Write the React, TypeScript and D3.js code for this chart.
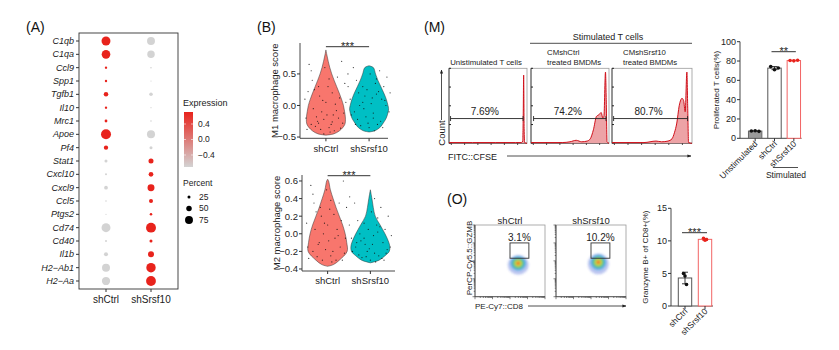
import React from 'react';
import * as d3 from 'd3';

const FONT = "'Liberation Sans', Arial, Helvetica, sans-serif";
const RED = '#E8231C';
const MINUS = (s: string) => s.replace('-', '\u2212');

// ---------- (A) dot plot data
const genes = ['C1qb', 'C1qa', 'Ccl9', 'Spp1', 'Tgfb1', 'Il10', 'Mrc1', 'Apoe', 'Pf4', 'Stat1',
  'Cxcl10', 'Cxcl9', 'Ccl5', 'Ptgs2', 'Cd74', 'Cd40', 'Il1b', 'H2\u2212Ab1', 'H2\u2212Aa'];
const groups = ['shCtrl', 'shSrsf10'];
const exprCtrl = [0.71, 0.71, 0.71, 0.71, 0.71, 0.71, 0.71, 0.71, 0.71, -0.71,
  -0.71, -0.71, -0.71, -0.71, -0.71, -0.71, -0.71, -0.71, -0.71];
const exprSrsf = exprCtrl.map(v => -v);
const pctCtrl = [85, 82, 18, 18, 40, 18, 22, 96, 38, 25, 14, 32, 10, 6, 85, 14, 35, 75, 78];
const pctSrsf = [75, 70, 10, 6, 30, 6, 10, 76, 25, 45, 42, 65, 35, 20, 95, 25, 55, 90, 94];
const exprTicks = [-0.4, 0, 0.4];
const pctTicks = [25, 50, 75];

// ---------- (B) violins: score levels and relative widths
const m1CtrlV = [-0.47, -0.45, -0.4, -0.3, -0.2, -0.1, 0, 0.1, 0.2, 0.3, 0.4, 0.5, 0.6, 0.7, 0.8, 0.88];
const m1CtrlW = [0, 0.4, 0.7, 0.97, 1.0, 0.96, 0.9, 0.8, 0.68, 0.55, 0.42, 0.3, 0.2, 0.12, 0.05, 0];
const m1SrsfV = [-0.42, -0.4, -0.35, -0.3, -0.2, -0.1, -0.05, 0, 0.1, 0.2, 0.3, 0.4, 0.5, 0.6, 0.63];
const m1SrsfW = [0, 0.3, 0.55, 0.68, 0.88, 0.98, 1.0, 0.97, 0.88, 0.75, 0.6, 0.45, 0.33, 0.22, 0];
const m2CtrlV = [-0.37, -0.35, -0.3, -0.2, -0.1, 0, 0.1, 0.2, 0.3, 0.4, 0.5, 0.6, 0.62];
const m2CtrlW = [0, 0.3, 0.6, 1.0, 0.98, 0.9, 0.77, 0.6, 0.43, 0.28, 0.14, 0.05, 0];
const m2SrsfV = [-0.33, -0.3, -0.25, -0.2, -0.15, -0.1, 0, 0.1, 0.2, 0.3, 0.4, 0.5];
const m2SrsfW = [0, 0.45, 0.75, 0.97, 1.0, 0.95, 0.75, 0.5, 0.25, 0.15, 0.08, 0];

// jittered cells: [jitter (-1..1), score]
const m1CtrlPts = [[-0.7, -0.3], [-0.4, -0.25], [0.15, -0.35], [0.6, -0.2], [-0.2, -0.1], [0.35, -0.15], [-0.6, -0.05], [0.8, -0.28], [0, 0.05], [-0.3, 0.15], [0.45, 0.02], [-0.9, -0.38], [0.2, -0.42], [-0.5, -0.33], [0.7, -0.36], [-0.1, -0.22], [0.3, 0.2], [-0.35, 0.3], [0.15, 0.42], [-0.7, 0.55], [0.9, 0.35], [-1, 0.1], [1.05, 0.5], [-0.05, 0.6], [0.5, -0.08], [-0.8, 0.65], [0.25, -0.3], [-0.45, -0.18], [0.65, 0.12], [0.05, -0.15], [-0.15, 0.08], [0.4, -0.4], [-0.55, 0.25], [0.85, -0.12], [-0.95, -0.2], [0.55, 0.45], [-0.25, -0.38], [0.1, 0.3], [0.75, 0.7], [-0.65, 0.4], [-0.1, -0.45], [0.3, -0.26], [-0.35, -0.28], [0.95, 0.05], [-0.85, 0.22]];
const m1SrsfPts = [[-0.7, -0.1], [-0.3, 0.05], [0.2, -0.2], [0.6, 0.1], [-0.1, 0.25], [0.4, -0.3], [-0.5, 0.2], [0.8, 0], [0, -0.35], [-0.85, -0.15], [0.3, 0.35], [-0.25, -0.05], [0.55, -0.25], [-0.6, 0.4], [0.15, 0.12], [0.7, 0.3], [-0.4, -0.32], [0.05, 0.5], [-0.9, 0.1], [0.95, -0.1], [0.35, 0.18], [-0.15, -0.18], [0.5, 0.55], [-0.75, 0.6], [0.25, -0.4], [-0.45, 0], [0.65, -0.35], [0.1, 0.03], [-0.3, 0.3], [0.85, 0.45], [-0.55, -0.22], [0.45, 0.22], [-0.05, -0.28], [-1, 0.3], [1, 0.2], [0.2, -0.12], [-0.2, 0.15], [0.75, 0.08], [-0.65, -0.3], [0.35, 0.42]];
const m2CtrlPts = [[-0.7, -0.2], [-0.4, -0.1], [0.15, -0.25], [0.6, -0.15], [-0.2, 0], [0.35, -0.05], [-0.6, 0.05], [0.8, -0.22], [0, 0.1], [-0.3, 0.2], [0.45, 0.05], [-0.9, -0.28], [0.2, -0.32], [-0.5, -0.26], [0.7, -0.3], [-0.1, -0.18], [0.3, 0.22], [-0.35, 0.3], [0.15, 0.38], [-0.7, 0.45], [0.9, 0.3], [-1, 0.12], [1.05, 0.42], [-0.05, 0.5], [0.5, -0.02], [-0.8, 0.55], [0.25, -0.2], [-0.45, -0.12], [0.65, 0.15], [0.05, -0.08], [-0.15, 0.12], [0.4, -0.3], [-0.55, 0.25], [0.85, -0.05], [-0.95, -0.15], [0.55, 0.35], [-0.25, -0.3], [0.1, 0.28], [0.75, 0.6], [-0.65, 0.35]];
const m2SrsfPts = [[-0.7, -0.15], [-0.3, -0.05], [0.2, -0.22], [0.6, -0.1], [-0.1, 0.05], [0.4, -0.25], [-0.5, 0], [0.8, -0.18], [0, -0.3], [-0.85, -0.2], [0.3, 0.1], [-0.25, -0.12], [0.55, -0.28], [-0.6, 0.15], [0.15, -0.02], [0.7, 0.05], [-0.4, -0.27], [0.05, 0.25], [-0.9, -0.05], [0.95, -0.15], [0.35, 0.02], [-0.15, -0.2], [0.5, 0.3], [-0.75, 0.35], [0.25, -0.32], [-0.45, -0.08], [0.65, -0.3], [0.1, -0.12], [-0.3, 0.12], [0.85, 0.2], [-0.55, -0.24], [0.45, 0.08], [-0.05, -0.17], [-1, 0.1], [1, -0.02], [0.2, 0.4], [-0.2, -0.26], [0.75, -0.22], [-0.65, -0.1], [0.35, 0.18]];
const m1Ticks = [-0.5, 0, 0.5];
const m2Ticks = [-0.4, -0.2, 0, 0.2, 0.4, 0.6];

// ---------- (M) CFSE histograms: [CFSE, count %]
const histUnstim = [[0, 1], [30, 1], [60, 1], [85, 1], [93, 1], [94.5, 3], [95.2, 40], [95.7, 91], [96.3, 20], [97, 1], [100, 0]];
const histCtrl = [[0, 1], [40, 1], [50, 2], [58, 4], [65, 2], [72, 3], [76, 6], [80, 18], [84, 36], [87, 38], [90, 41], [92, 34], [93.5, 36], [95.5, 95], [96.5, 55], [97.5, 2], [100, 0]];
const histSrsf = [[0, 1], [40, 1], [55, 3], [62, 2], [70, 3], [75, 6], [78, 14], [81, 27], [84, 50], [86, 58], [87.5, 60], [89.5, 57], [91.5, 42], [93.6, 95], [94.6, 50], [95.7, 1], [100, 0]];
const cfseGates = [[2, 95], [3.3, 96.2], [2, 94.5]];
const cfsePct = ['7.69%', '74.2%', '80.7%'];

const prolCats = ['Unstimulated', 'shCtrl', 'shSrsf10'];
const prolUnstim = [7.5, 7.8, 7.2];
const prolCtrl = [74.2, 71.0, 72.8];
const prolSrsf = [80.5, 80.2, 80.8];
const prolTicks = [0, 20, 40, 60, 80, 100];

// ---------- (O) GZMB flow + bars
const gzGate = [[1000, 12000], [1400, 10000]];
const gzPct = ['3.1%', '10.2%'];
// density blob: centre (log10 CD8, log10 GZMB), radii in decades
const blobCtrl = [3.47, 2.86, 0.6, 0.55];
const blobSrsf = [3.42, 2.92, 0.6, 0.58];
const blobLevels = [1.0, 0.75, 0.55, 0.36, 0.22, 0.11];
const blobColors = ['#3a58d4', '#3c9fe0', '#4cc47c', '#c9da3a', '#f2a23a', '#e3402a'];
const gzCats = ['shCtrl', 'shSrsf10'];
const gzCtrl = [5.0, 4.6, 3.3];
const gzSrsf = [10.4, 10.1, 10.2];
const gzTicks = [0, 5, 10, 15];

const mean = (a: number[]) => d3.mean(a) as number;
const sd = (a: number[]) => d3.deviation(a) as number;

function Stars({x1, x2, y, label}: {x1: number; x2: number; y: number; label: string}) {
  return <g>
    <line x1={x1} x2={x2} y1={y} y2={y} stroke="#333" strokeWidth={1}/>
    <text x={(x1 + x2) / 2} y={y + 3} textAnchor="middle" fontSize={11} fill="#222">{label}</text>
  </g>;
}

function PanelA() {
  const x = d3.scalePoint<string>().domain(groups).range([79, 178]).padding(0.6);
  const y = d3.scalePoint<string>().domain(genes).range([33, 289]).padding(0.6);
  const r = d3.scaleLinear().domain([0, 100]).range([0.3, 5.2]);
  const col = d3.scaleLinear<string>().domain([-0.71, 0.71]).range(['#D3D3D3', RED]);
  const legY = d3.scaleLinear().domain([-0.71, 0.71]).range([167, 112]);
  const sets = [{g: 'shCtrl', e: exprCtrl, p: pctCtrl}, {g: 'shSrsf10', e: exprSrsf, p: pctSrsf}];
  return <g>
    <text x={26} y={32} fontSize={14} fill="#111">(A)</text>
    <rect x={79} y={33} width={99} height={256} fill="none" stroke="#333" strokeWidth={0.9}/>
    {genes.map(g => <g key={g}>
      <line x1={76} x2={79} y1={y(g)} y2={y(g)} stroke="#333"/>
      <text x={74} y={y(g)} dy="0.35em" textAnchor="end" fontSize={9} fontStyle="italic" fill="#222">{g}</text>
    </g>)}
    {groups.map(g => <g key={g}>
      <line x1={x(g)} x2={x(g)} y1={289} y2={292} stroke="#333"/>
      <text x={x(g)} y={303} textAnchor="middle" fontSize={10} fill="#222">{g}</text>
    </g>)}
    {sets.map(s => genes.map((g, i) =>
      <circle key={s.g + g} cx={x(s.g)} cy={y(g)} r={r(s.p[i])} fill={col(s.e[i])}/>))}
    <defs>
      <linearGradient id="exprGrad" x1="0" y1="1" x2="0" y2="0">
        <stop offset="0%" stopColor="#D3D3D3"/>
        <stop offset="100%" stopColor={RED}/>
      </linearGradient>
    </defs>
    <text x={183} y={106} fontSize={9} fill="#222">Expression</text>
    <rect x={184} y={112} width={9} height={55} fill="url(#exprGrad)"/>
    {exprTicks.map(t => <g key={t}>
      <line x1={184} x2={186} y1={legY(t)} y2={legY(t)} stroke="#fff" strokeWidth={0.6}/>
      <line x1={191} x2={193} y1={legY(t)} y2={legY(t)} stroke="#fff" strokeWidth={0.6}/>
      <text x={198} y={legY(t)} dy="0.35em" fontSize={8.5} fill="#222">{MINUS(d3.format('.1f')(t))}</text>
    </g>)}
    <text x={183} y={186} fontSize={8.5} fill="#222">Percent</text>
    {pctTicks.map((t, i) => <g key={t}>
      <circle cx={189} cy={197 + i * 11.5} r={r(t)} fill="#000"/>
      <text x={199} y={197 + i * 11.5} dy="0.35em" fontSize={8.5} fill="#222">{t}</text>
    </g>)}
  </g>;
}

function Violin({cx, hw, y, vs, ws, pts, fill}: any) {
  const area = d3.area<number>()
    .y((_, i) => y(vs[i]))
    .x0((_, i) => cx - ws[i] * hw)
    .x1((_, i) => cx + ws[i] * hw)
    .curve(d3.curveCatmullRom);
  return <g>
    <path d={area(vs) as string} fill={fill} stroke="#333" strokeWidth={0.5}/>
    {pts.map((p: number[], i: number) =>
      <circle key={i} cx={cx + p[0] * 21} cy={y(p[1])} r={0.6} fill="#111" opacity={0.85}/>)}
  </g>;
}

function ViolinPanel({top, bottom, dom, xr, axisEnd, ticks, title, sets, sigY, labelY}: any) {
  const y = d3.scaleLinear().domain(dom).range([bottom, top]);
  const x = d3.scalePoint<string>().domain(groups).range(xr).padding(0.6);
  const ax = xr[0];
  return <g>
    <line x1={ax} x2={ax} y1={top} y2={bottom} stroke="#333" strokeWidth={0.9}/>
    <line x1={ax} x2={axisEnd} y1={bottom} y2={bottom} stroke="#333" strokeWidth={0.9}/>
    {ticks.map((t: number) => <g key={t}>
      <line x1={ax - 3} x2={ax} y1={y(t)} y2={y(t)} stroke="#333"/>
      <text x={ax - 4} y={y(t)} dy="0.35em" textAnchor="end" fontSize={9.5} fill="#222">{MINUS(d3.format('.1f')(t))}</text>
    </g>)}
    {sets.map((s: any) => <Violin key={s.g} cx={x(s.g)} hw={19.5} y={y} vs={s.v} ws={s.w} pts={s.pts} fill={s.fill}/>)}
    {groups.map(g => <g key={g}>
      <line x1={x(g)} x2={x(g)} y1={bottom} y2={bottom + 3} stroke="#333"/>
      <text x={x(g)} y={labelY} textAnchor="middle" fontSize={9.5} fill="#222">{g}</text>
    </g>)}
    <text transform={`translate(${ax - 22},${(top + bottom) / 2}) rotate(-90)`} textAnchor="middle" fontSize={9.5} fill="#222">{title}</text>
    <Stars x1={x('shCtrl') as number} x2={x('shSrsf10') as number} y={sigY} label="***"/>
  </g>;
}

function PanelB() {
  return <g>
    <text x={257} y={32} fontSize={14} fill="#111">(B)</text>
    <ViolinPanel top={43} bottom={138.3} dom={[-0.52, 0.99]} xr={[300, 395]} axisEnd={388} ticks={m1Ticks}
      title="M1 macrophage score" sigY={46.7} labelY={152}
      sets={[{g: 'shCtrl', v: m1CtrlV, w: m1CtrlW, pts: m1CtrlPts, fill: '#F8766D'},
        {g: 'shSrsf10', v: m1SrsfV, w: m1SrsfW, pts: m1SrsfPts, fill: '#00BFC4'}]}/>
    <ViolinPanel top={175} bottom={271} dom={[-0.423, 0.668]} xr={[302, 396]} axisEnd={395} ticks={m2Ticks}
      title="M2 macrophage score" sigY={175.7} labelY={284}
      sets={[{g: 'shCtrl', v: m2CtrlV, w: m2CtrlW, pts: m2CtrlPts, fill: '#F8766D'},
        {g: 'shSrsf10', v: m2SrsfV, w: m2SrsfW, pts: m2SrsfPts, fill: '#00BFC4'}]}/>
  </g>;
}

function PanelM() {
  const boxes = [[449, 527], [531, 609], [612, 692]];
  const top = 68.3, bottom = 143.3;
  const hists = [histUnstim, histCtrl, histSrsf];
  const y = d3.scaleLinear().domain([0, 100]).range([bottom, top]);
  return <g>
    <defs>
      <marker id="arr" viewBox="0 0 10 10" refX={9} refY={5} markerWidth={5} markerHeight={5} orient="auto">
        <path d="M0,1 L10,5 L0,9 z" fill="#222"/>
      </marker>
    </defs>
    <text x={424} y={32} fontSize={14} fill="#111">(M)</text>
    <text x={608} y={40} textAnchor="middle" fontSize={9} fill="#222">Stimulated T cells</text>
    <line x1={530} x2={692} y1={43.3} y2={43.3} stroke="#222" strokeWidth={0.8}/>
    <text x={486} y={65} textAnchor="middle" fontSize={7.8} fill="#222">Unistimulated T cells</text>
    <text x={547} y={55} fontSize={7.8} fill="#222">CMshCtrl</text>
    <text x={547} y={65} fontSize={7.8} fill="#222">treated BMDMs</text>
    <text x={623} y={55} fontSize={7.8} fill="#222">CMshSrsf10</text>
    <text x={623} y={65} fontSize={7.8} fill="#222">treated BMDMs</text>
    {boxes.map((b, i) => {
      const x = d3.scaleLinear().domain([0, 100]).range(b);
      const area = d3.area<number[]>().x(d => x(d[0])).y0(bottom).y1(d => y(d[1])).curve(d3.curveMonotoneX);
      const line = d3.line<number[]>().x(d => x(d[0])).y(d => y(d[1])).curve(d3.curveMonotoneX);
      const g = cfseGates[i];
      return <g key={i}>
        <rect x={b[0]} y={top} width={b[1] - b[0]} height={bottom - top} fill="#fff" stroke="#9a9a9a" strokeWidth={0.8}/>
        <line x1={b[0]} x2={b[0]} y1={top} y2={bottom} stroke="#333" strokeWidth={0.8}/>
        <line x1={b[0]} x2={b[1]} y1={bottom} y2={bottom} stroke="#333" strokeWidth={0.8}/>
        {[0, 25, 50, 75, 100].map(t => <line key={t} x1={b[0]} x2={b[0] + 2} y1={y(t)} y2={y(t)} stroke="#222"/>)}
        {[3, 20, 37, 54, 71, 88].map(t => <line key={t} x1={x(t)} x2={x(t)} y1={bottom - 1} y2={bottom + 1.5} stroke="#222"/>)}
        <path d={area(hists[i]) as string} fill="#EDA3A6"/>
        <path d={line(hists[i]) as string} fill="none" stroke="#D0111B" strokeWidth={1}/>
        <line x1={x(g[0])} x2={x(g[1])} y1={y(33)} y2={y(33)} stroke="#222" strokeWidth={0.9}/>
        <line x1={x(g[0])} x2={x(g[0])} y1={y(33) - 2.5} y2={y(33) + 2.5} stroke="#222" strokeWidth={0.9}/>
        <line x1={x(g[1])} x2={x(g[1])} y1={y(33) - 2.5} y2={y(33) + 2.5} stroke="#222" strokeWidth={0.9}/>
        <text x={(x(g[0]) + x(g[1])) / 2 - 2} y={115} textAnchor="middle" fontSize={10} fill="#222">{cfsePct[i]}</text>
      </g>;
    })}
    <text transform="translate(445,133) rotate(-90)" textAnchor="middle" fontSize={9.5} fill="#222">Count</text>
    <line x1={441.5} x2={441.5} y1={120} y2={70} stroke="#222" strokeWidth={0.8} markerEnd="url(#arr)"/>
    <text x={448} y={160} fontSize={9} fill="#222">FITC::CFSE</text>
    <line x1={507} x2={691} y1={156} y2={156} stroke="#222" strokeWidth={0.8} markerEnd="url(#arr)"/>
  </g>;
}

function BarChart({cats, data, ticks, dom, top, bottom, axX, xr, strokes, fills, dotCols, title, titleX, sig, dotSpread}: any) {
  const y = d3.scaleLinear().domain(dom).range([bottom, top]);
  const x = d3.scalePoint<string>().domain(cats).range(xr).padding(0.5);
  const bw = 13.4;
  const axEnd = (xr[1] as number) - 2;
  return <g>
    <line x1={axX} x2={axX} y1={top} y2={bottom} stroke="#333" strokeWidth={0.9}/>
    <line x1={axX} x2={axEnd} y1={bottom} y2={bottom} stroke="#333" strokeWidth={0.9}/>
    {ticks.map((t: number) => <g key={t}>
      <line x1={axX - 3} x2={axX} y1={y(t)} y2={y(t)} stroke="#333"/>
      <text x={axX - 4} y={y(t)} dy="0.35em" textAnchor="end" fontSize={9} fill="#222">{t}</text>
    </g>)}
    {cats.map((c: string, i: number) => {
      const m = mean(data[i]);
      const s = sd(data[i]);
      const cx = x(c) as number;
      const ec = strokes[i] === '#555' ? '#222' : strokes[i];
      return <g key={c}>
        <rect x={cx - bw / 2} y={y(m)} width={bw} height={bottom - y(m)} fill={fills[i]} stroke={strokes[i]} strokeWidth={1}/>
        <line x1={cx} x2={cx} y1={y(m + s)} y2={y(m - s)} stroke={ec} strokeWidth={0.9}/>
        <line x1={cx - 3} x2={cx + 3} y1={y(m + s)} y2={y(m + s)} stroke={ec} strokeWidth={0.9}/>
        <line x1={cx - 3} x2={cx + 3} y1={y(m - s)} y2={y(m - s)} stroke={ec} strokeWidth={0.9}/>
        {data[i].map((v: number, j: number) =>
          <circle key={j} cx={cx + (j - 1) * dotSpread} cy={y(v)} r={1.8} fill={dotCols[i]}/>)}
        <line x1={cx} x2={cx} y1={bottom} y2={bottom + 3} stroke="#333"/>
        <text transform={`translate(${cx + 3},${bottom + 6}) rotate(-45)`} textAnchor="end" fontSize={8.5} fill="#222">{c}</text>
      </g>;
    })}
    <text transform={`translate(${titleX},${(top + bottom) / 2}) rotate(-90)`} textAnchor="middle" fontSize={8} fill="#222">{title}</text>
    <Stars x1={x(cats[sig[0]]) as number - 3} x2={x(cats[sig[1]]) as number + 2} y={sig[2]} label={sig[3]}/>
  </g>;
}

function PanelMBars() {
  return <g>
    <BarChart cats={prolCats} data={[prolUnstim, prolCtrl, prolSrsf]} ticks={prolTicks} dom={[0, 100]}
      top={41.7} bottom={138.3} axX={740} xr={[745.5, 803.5]}
      strokes={['#666', '#555', '#F26464']} fills={['#9a9a9a', '#fff', '#fff']} dotCols={['#111', '#111', RED]}
      title="Proliferated T cells(%)" titleX={719} sig={[1, 2, 51.7, '**']} dotSpread={3.8}/>
    <line x1={773} x2={798} y1={167.5} y2={167.5} stroke="#222" strokeWidth={0.8}/>
    <text x={786} y={178} textAnchor="middle" fontSize={8.5} fill="#222">Stimulated</text>
  </g>;
}

function PanelO() {
  const boxes = [[475, 545], [556, 626]];
  const top = 225, bottom = 296.7;
  const blobs = [blobCtrl, blobSrsf];
  return <g>
    <defs>
      <filter id="blur" x="-50%" y="-50%" width="200%" height="200%">
        <feGaussianBlur stdDeviation={0.9}/>
      </filter>
    </defs>
    <text x={447} y={204} fontSize={14} fill="#111">(O)</text>
    {boxes.map((b, i) => {
      const x = d3.scaleLog().domain([10, 1e5]).range(b);
      const y = d3.scaleLog().domain([10, 1e5]).range([bottom, top]);
      const bl = blobs[i];
      const cx = x(10 ** bl[0]), cy = y(10 ** bl[1]);
      const rx = x(10 ** (bl[0] + bl[2])) - cx, ry = cy - y(10 ** (bl[1] + bl[3]));
      const tk = x.ticks();
      return <g key={i}>
        <rect x={b[0]} y={top} width={b[1] - b[0]} height={bottom - top} fill="#fff" stroke="#9a9a9a" strokeWidth={0.8}/>
        <line x1={b[0]} x2={b[0]} y1={top} y2={bottom} stroke="#444" strokeWidth={0.8}/>
        <line x1={b[0]} x2={b[1]} y1={bottom} y2={bottom} stroke="#444" strokeWidth={0.8}/>
        {tk.map((t, k) => {
          const major = Math.abs(Math.log10(t) % 1) < 1e-9;
          const l = major ? 2.5 : 1.3;
          return <g key={k}>
            <line x1={b[0] - l} x2={b[0]} y1={y(t)} y2={y(t)} stroke="#333" strokeWidth={0.6}/>
            <line x1={x(t)} x2={x(t)} y1={bottom} y2={bottom + l} stroke="#333" strokeWidth={0.6}/>
          </g>;
        })}
        <g filter="url(#blur)">
          {blobLevels.map((lv, k) =>
            <ellipse key={k} cx={cx} cy={cy + (k === 0 ? 1.5 : 0)} rx={rx * lv} ry={ry * lv} fill={blobColors[k]} opacity={k === 0 ? 0.35 : k === 1 ? 0.7 : 0.9}/>)}
        </g>
        <rect x={x(gzGate[0][0])} y={y(gzGate[1][1])} width={x(gzGate[0][1]) - x(gzGate[0][0])}
          height={y(gzGate[1][0]) - y(gzGate[1][1])} fill="none" stroke="#333" strokeWidth={0.9}/>
        <text x={(x(gzGate[0][0]) + x(gzGate[0][1])) / 2} y={240.5} textAnchor="middle" fontSize={10} fill="#222">{gzPct[i]}</text>
        <text x={(b[0] + b[1]) / 2} y={223.5} textAnchor="middle" fontSize={9.5} fill="#222">{gzCats[i]}</text>
      </g>;
    })}
    <text transform="translate(472,258) rotate(-90)" textAnchor="middle" fontSize={8} fill="#222">PerCP-Cy5.5::GZMB</text>
    <text x={475} y={309} fontSize={8} fill="#222">PE-Cy7::CD8</text>
    <line x1={528} x2={626} y1={306} y2={306} stroke="#222" strokeWidth={0.8} markerEnd="url(#arr)"/>
  </g>;
}

function PanelOBars() {
  return <BarChart cats={gzCats} data={[gzCtrl, gzSrsf]} ticks={gzTicks} dom={[0, 15]}
    top={208.3} bottom={306} axX={671} xr={[675, 715]}
    strokes={['#555', '#F26464']} fills={['#fff', '#fff']} dotCols={['#111', RED]}
    title="Granzyme B+ of CD8+(%)" titleX={648} sig={[0, 1, 232.7, '***']} dotSpread={1.5}/>;
}

export default function App() {
  return (
    <div style={{position: 'absolute', left: 0, top: 0}}>
      <svg width={839} height={350} viewBox="0 0 839 350" fontFamily={FONT} style={{display: 'block', background: '#fff'}}>
        <rect width={839} height={350} fill="#fff"/>
        <PanelA/>
        <PanelB/>
        <PanelM/>
        <PanelMBars/>
        <PanelO/>
        <PanelOBars/>
      </svg>
    </div>
  );
}
